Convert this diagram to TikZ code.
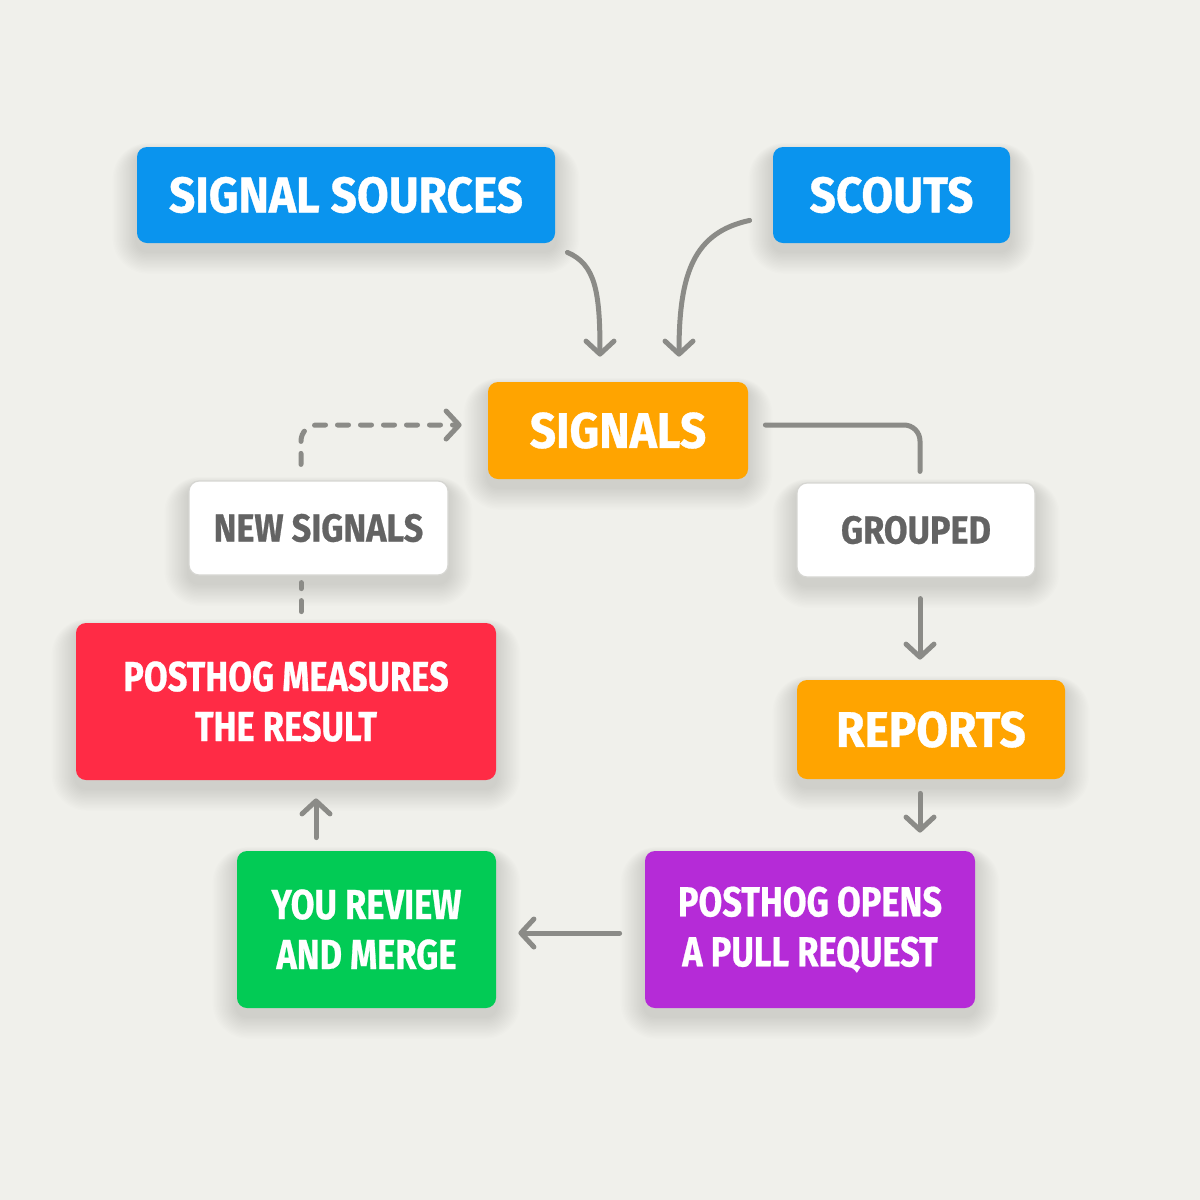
\documentclass[tikz,border=0pt]{standalone}
\usepackage{fontspec}
\setmainfont{Fira Sans}
\newfontfamily\bigf{Fira Sans}[FakeStretch=0.92, FakeBold=0.7]
\newfontfamily\midf{Fira Sans}[FakeStretch=0.82, FakeBold=0.6]
\newfontfamily\wf{Fira Sans}[FakeStretch=0.88, FakeBold=0.6]
\usetikzlibrary{arrows.meta,calc}
\definecolor{bgc}{HTML}{F0F0EB}
\definecolor{cblue}{HTML}{0A94EE}
\definecolor{corange}{HTML}{FFA400}
\definecolor{cred}{HTML}{FF2B45}
\definecolor{cgreen}{HTML}{02CB55}
\definecolor{cpurple}{HTML}{B52BD7}
\definecolor{arrc}{HTML}{8B8B87}
\definecolor{tgray}{HTML}{636363}
\definecolor{wborder}{HTML}{D6D6D2}
\pgfdeclarelayer{bgl}
\pgfdeclarelayer{shd}
\pgfsetlayers{bgl,shd,main}
\newcommand\boxshadow[1]{%
  \begin{pgfonlayer}{shd}
  \foreach \k in {1,...,16}{%
    \pgfmathsetmacro\rr{5+\k*0.8}%
    \fill[black,opacity=0.008,rounded corners=\rr pt]
      ($(#1.south west)+({-\k*1.5},{8+\k*1.4})$) rectangle
      ($(#1.north east)+({\k*1.5},{6-\k*0.6})$);
  }
  \end{pgfonlayer}}
\begin{document}
\begin{tikzpicture}[x=0.5pt,y=-0.5pt,
  box/.style={rounded corners=5pt, inner sep=0pt, font=\bigf\bfseries\fontsize{25}{30}\selectfont, text=white, align=center},
  lbox/.style={box, font=\midf\bfseries\fontsize{21}{25}\selectfont},
  wbox/.style={rounded corners=5pt, inner sep=0pt, fill=white, draw=wborder, line width=0.6pt, text=tgray, font=\wf\bfseries\fontsize{19.5}{24}\selectfont},
  arr/.style={draw=arrc, line width=2.5pt, line cap=round, -{Straight Barb[length=6.5pt,width=14pt,round]}},
  darr/.style={arr, dash pattern=on 5.5pt off 6pt},
  dline/.style={draw=arrc, line width=2.5pt, line cap=round, dash pattern=on 5.5pt off 6pt}]
\begin{pgfonlayer}{bgl}
\fill[bgc] (0,0) rectangle (1200,1200);
\end{pgfonlayer}
\useasboundingbox (0,0) rectangle (1200,1200);

\node[box, fill=cblue, minimum width=209pt, minimum height=48pt] (src) at (346,195) {SIGNAL SOURCES};
\node[box, fill=cblue, minimum width=118.5pt, minimum height=48pt] (scouts) at (891.5,195) {SCOUTS};
\node[box, fill=corange, minimum width=130pt, minimum height=48.5pt] (signals) at (618,430.5) {SIGNALS};
\node[wbox, minimum width=129.5pt, minimum height=47pt] (newsig) at (318.5,528) {NEW SIGNALS};
\node[wbox, minimum width=119pt, minimum height=47pt] (grouped) at (916,530) {GROUPED};
\node[lbox, fill=cred, minimum width=210pt, minimum height=78.5pt] (measure) at (286,701.5) {POSTHOG MEASURES\\THE RESULT};
\node[box, fill=corange, minimum width=134pt, minimum height=49.5pt] (reports) at (931,729.5) {REPORTS};
\node[lbox, fill=cgreen, minimum width=129.5pt, minimum height=78.5pt] (review) at (366.5,929.5) {YOU REVIEW\\AND MERGE};
\node[lbox, fill=cpurple, minimum width=165pt, minimum height=78.5pt] (opens) at (810,929.5) {POSTHOG OPENS\\A PULL REQUEST};

\foreach \n in {src,scouts,signals,newsig,grouped,measure,reports,review,opens}{\boxshadow{\n}}

\draw[arr] ($(src.south east)+(12,9)$) .. controls +(28,12) and +(0,-65) .. ($(signals.north)+(-18,-25)$);
\draw[arr] ($(scouts.south west)+(-23,-23)$) .. controls +(-55,12) and +(0,-85) .. ($(signals.north)+(61,-25)$);
\draw[draw=arrc, line width=2.5pt, line cap=round, rounded corners=8pt] ($(signals.east)+(17,-5.5)$) -| ($(grouped.north)+(4,-11)$);
\draw[arr] ($(grouped.south)+(4,21)$) -- ($(reports.north)+(-11,-20)$);
\draw[arr] ($(reports.south)+(-11,14)$) -- ($(opens.north)+(110,-18)$);
\draw[arr] ($(opens.west)+(-25,3.5)$) -- ($(review.east)+(22,3.5)$);
\draw[arr] ($(review.north)+(-50.5,-13)$) -- ($(measure.south)+(30,18)$);
\draw[dline] ($(measure.north)+(15,-11)$) -- ($(newsig.south)+(-17.5,7)$);
\draw[darr, rounded corners=8pt] ($(newsig.north)+(-17.5,-16)$) |- ($(signals.west)+(-26,-5.5)$);
\end{tikzpicture}
\end{document}
